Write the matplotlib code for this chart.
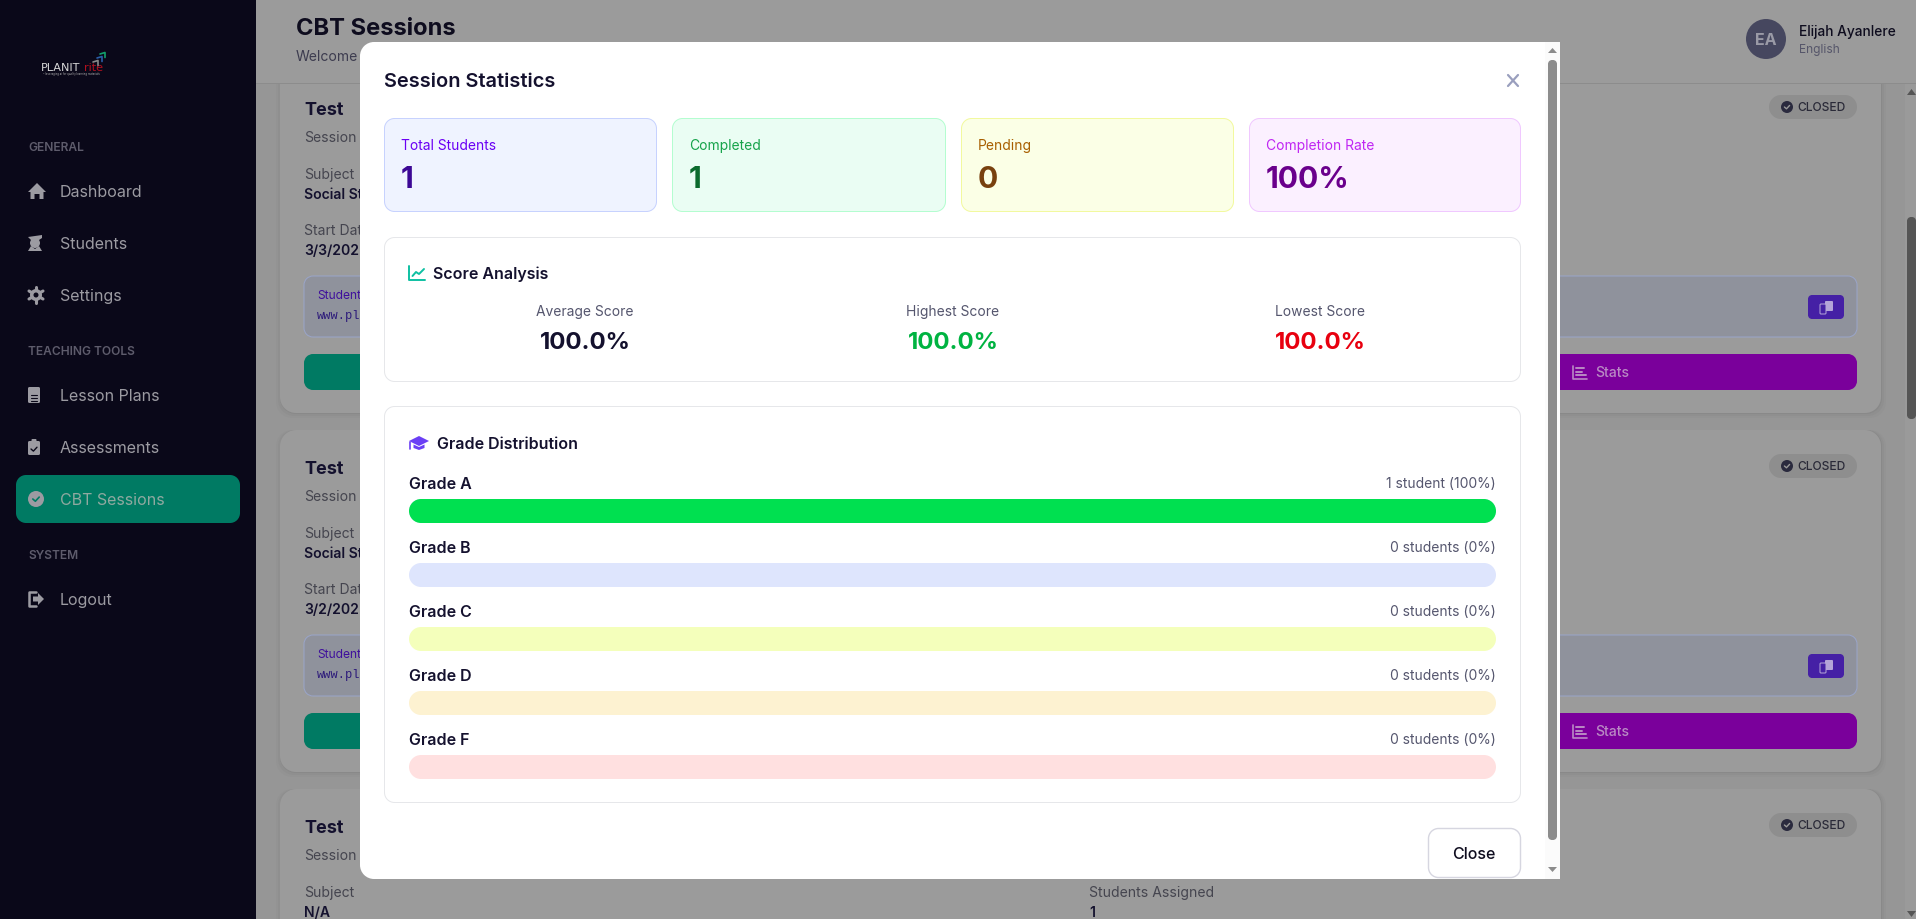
import matplotlib
matplotlib.use("Agg")
import matplotlib.pyplot as plt
from matplotlib.patches import PathPatch, Rectangle, Circle, Polygon
from matplotlib.path import Path
from matplotlib.transforms import IdentityTransform

# data
stat_labels = ["Total Students", "Completed", "Pending", "Completion Rate"]
stat_values = ["1", "1", "0", "100%"]
score_labels = ["Average Score", "Highest Score", "Lowest Score"]
score_values = [100.0, 100.0, 100.0]
grades = ["Grade A", "Grade B", "Grade C", "Grade D", "Grade F"]
grade_students = [1, 0, 0, 0, 0]
grade_percent = [100, 0, 0, 0, 0]
menu_general = ["Dashboard", "Students", "Settings"]
menu_tools = ["Lesson Plans", "Assessments", "CBT Sessions"]

plt.rcParams["font.family"] = ["Inter", "DejaVu Sans"]

W, H = 1916, 919
fig = plt.figure(figsize=(W / 100, H / 100), dpi=100, facecolor="#969696")
ax = fig.add_axes([0, 0, 1, 1])
ax.set_xlim(0, W)
ax.set_ylim(H, 0)
ax.axis("off")

DARK = "#14112e"
MUTED = "#55566e"
PX = 0.72  # one pixel as a line width


def txt(x, y, s, px, color=DARK, weight="normal", ha="left", z=5, **kw):
    # y is the middle of the capitals, so place by baseline
    return ax.text(x, y + 0.36 * px, s, fontsize=px * 0.72, color=color, fontweight=weight,
                   ha=ha, va="baseline", zorder=z, **kw)


def round_path(x0, y0, x1, y1, r):
    r = min(r, (x1 - x0) / 2, (y1 - y0) / 2)
    verts, codes = [], []
    for cx, cy, a, b in [(x1 - r, y0 + r, -90, 0), (x1 - r, y1 - r, 0, 90),
                         (x0 + r, y1 - r, 90, 180), (x0 + r, y0 + r, 180, 270)]:
        arc = Path.arc(a, b)
        cc = list(arc.codes)
        if verts:
            cc[0] = Path.LINETO
        verts += [(vx * r + cx, vy * r + cy) for vx, vy in arc.vertices]
        codes += cc
    verts.append(verts[0])
    codes.append(Path.CLOSEPOLY)
    return Path(verts, codes)


def box(x0, y0, x1, y1, r, fc, ec="none", lw=PX, z=2, alpha=None):
    p = PathPatch(round_path(x0, y0, x1, y1, r), fc=fc, ec=ec, lw=lw, zorder=z, alpha=alpha)
    ax.add_patch(p)
    return p


def rect(x0, y0, x1, y1, fc, z=2):
    ax.add_patch(Rectangle((x0, y0), x1 - x0, y1 - y0, fc=fc, ec="none", zorder=z))


def poly(pts, fc, z=5):
    ax.add_patch(Polygon(pts, closed=True, fc=fc, ec="none", zorder=z))


def stroke(xs, ys, color, lw=1.5, z=6):
    ax.plot(xs, ys, color=color, lw=lw, zorder=z, solid_capstyle="round", solid_joinstyle="round")


def check(cx, cy, s, color, lw=1.0, z=7):
    stroke([cx - s, cx - s * 0.2, cx + s], [cy, cy + s * 0.7, cy - s * 0.6], color, lw, z)


# page behind the dialog
rect(256, 0, W, 83, "#9b9b9b", 1.8)
rect(256, 83, W, 84, "#8c8c8c", 1.8)
rect(0, 0, 256, H, "#0a0819", 3)
rect(1905, 84, W, H, "#9a9a9a", 1.8)
box(1907, 217, 1916, 419, 4, "#555555", z=2)
poly([(1907, 95), (1911.5, 89), (1916, 95)], "#555555", 3)
poly([(1907, 911), (1911.5, 917), (1916, 911)], "#555555", 3)

txt(296, 26, "CBT Sessions", 23.7, "#0e0c1e", "bold")
txt(296, 56, "Welcome", 14, "#3d3c4f")
ax.add_patch(Circle((1766, 39), 20, fc="#46475f", ec="none", zorder=4))
txt(1766, 39, "EA", 16, "#9a9aa6", "bold", ha="center")
txt(1799, 31, "Elijah Ayanlere", 13.8, "#0e0c1e", "medium")
txt(1799, 49, "English", 12, "#56566a")

# the session cards, only their visible parts
card_rows = [
    (0, "Social St", "3/3/202"),
    (359, "Social St", "3/2/202"),
    (718, "N/A", None),
]
for dy, subject, date in card_rows:
    top = 71 + dy if dy else -40
    # soft shadow under the card
    for k, a in [(5, 0.015), (3, 0.025), (1, 0.04)]:
        box(281 - k, top, 1881 + k, dy + 413 + k, 16, "black", z=1.2, alpha=a)
    box(280, top, 1881, dy + 413, 16, "#9b9b9b", z=1.5)
    txt(304, 109 + dy, "Test", 18, "#14112e", "bold")
    txt(304, 137 + dy, "Session", 14, "#45454f")
    txt(304, 174 + dy, "Subject", 14, "#45454f")
    txt(304, 194 + dy, subject, 14, "#14112e", "semibold")
    box(1769, 95 + dy, 1857, 119 + dy, 12, "#8e8e8e", z=3)
    ax.add_patch(Circle((1787, 107 + dy), 6, fc="#2a2a3e", ec="none", zorder=4))
    check(1787, 107 + dy, 2.6, "#9a9a9a")
    txt(1797, 107 + dy, "CLOSED", 12, "#2a2a38", "medium")
    if date:
        txt(304, 230 + dy, "Start Dat", 14, "#45454f")
        txt(304, 250 + dy, date, 14, "#14112e", "semibold")
        box(304, 276 + dy, 1857, 337 + dy, 9, "#8f929c", ec="#9aa5c9", z=3)
        txt(317, 295 + dy, "Student", 12, "#3f0f9c")
        txt(317, 315 + dy, "www.pl", 12, "#2c1a7a", family="Liberation Mono")
        box(1808, 295 + dy, 1844, 319 + dy, 4, "#4520a5", z=4)
        box(1825, 301 + dy, 1833, 311 + dy, 1, "#b4a4d8", z=5)
        box(1820, 304 + dy, 1826, 314 + dy, 1, "#4520a5", ec="#b4a4d8", z=6)
        box(304, 354 + dy, 1000, 390 + dy, 9, "#007a63", z=3)
        box(1400, 354 + dy, 1857, 390 + dy, 9, "#7a009b", z=3)
        stroke([1573, 1573, 1587], [366 + dy, 379 + dy, 379 + dy], "#b98ac4", 1.2)
        for k, ln in enumerate([8, 6, 10]):
            stroke([1576, 1576 + ln], [368 + 3.5 * k + dy, 368 + 3.5 * k + dy], "#b98ac4", 1.4)
        txt(1595, 372 + dy, "Stats", 14, "#b98ac4", "medium")
txt(1089, 892, "Students Assigned", 14, "#45454f")
txt(1089, 912, "1", 14, "#14112e", "semibold")

# sidebar
SIDE = "#9c9ba2"
SEC = "#5e5c6c"
txt(41, 67, "PLANIT", 11.2, "#d8d8d8", z=6, family="DejaVu Sans")
txt(84, 67, "rite", 11.2, "#b3101f", z=6, family="DejaVu Sans")
txt(43, 74, "– leveraging ai for quality learning materials", 2.7, "#b0b0b0", z=6)
for x0, y0, c in [(93, 62, "#888888"), (97, 58, "#2a5fa8"), (100, 54, "#12a06c")]:
    stroke([x0, x0 + 5, x0 + 5], [y0, y0 - 1.5, y0 + 3.5], c, 1.2)

txt(28, 147, "GENERAL", 12, SEC, "semibold", z=6)
txt(28, 351, "TEACHING TOOLS", 12, SEC, "semibold", z=6)
txt(28, 555, "SYSTEM", 12, SEC, "semibold", z=6)
box(16, 475, 240, 523, 10, "#007a63", z=4)
menu_y = [191, 243, 295, 395, 447, 499]
for name, y in zip(menu_general + menu_tools, menu_y):
    txt(60, y, name, 16, "#8fa9a0" if name == "CBT Sessions" else SIDE, z=6)
txt(60, 599, "Logout", 16, SIDE, z=6)

# sidebar icons
poly([(28, 192), (37, 183), (46, 192), (43.5, 192), (43.5, 199), (39.5, 199), (39.5, 194), (34.5, 194),
      (34.5, 199), (30.5, 199), (30.5, 192)], SIDE, 6)
poly([(28, 237), (42, 235), (42, 238), (39, 240), (31, 240)], SIDE, 6)
ax.add_patch(Circle((35, 243), 5, fc=SIDE, ec="none", zorder=6))
poly([(28, 251), (31, 246), (35, 249), (39, 246), (42, 251)], SIDE, 6)
for dx, dy in [(0, 8), (7, 4), (7, -4)]:
    stroke([36 - dx, 36 + dx], [295 - dy, 295 + dy], SIDE, 2.2)
ax.add_patch(Circle((36, 295), 6, fc=SIDE, ec="none", zorder=6.1))
ax.add_patch(Circle((36, 295), 2.5, fc="#0a0819", ec="none", zorder=6.2))
box(28, 387, 40, 403, 1.5, SIDE, z=6)
for yy in [395, 398, 401]:
    stroke([31, 37], [yy - 0.5, yy - 0.5], "#0a0819", 0.8, 7)
box(28, 441, 40, 455, 1.5, SIDE, z=6)
box(31.5, 439, 36.5, 443, 1, SIDE, z=6)
check(34, 449, 3, "#0a0819", 1.0)
ax.add_patch(Circle((36, 499), 8, fc=SIDE, ec="none", zorder=6))
check(36, 499, 3.2, "#007a63", 1.2)
stroke([36, 29, 29, 36], [592, 592, 606, 606], SIDE, 1.8)
poly([(33, 596.5), (38, 596.5), (38, 593), (44, 599), (38, 605), (38, 601.5), (33, 601.5)], SIDE, 6)

# dialog
Z = 10
box(360, 42, 400, 879, 14, "white", z=Z)
rect(375, 42, 1560, 879, "white", Z)
rect(1545, 42, 1560, 879, "#fbfbfb", Z + 0.1)
box(1548, 60, 1557, 840, 4, "#8c8c8c", z=Z + 0.2)
poly([(1548, 53), (1552.5, 48), (1557, 53)], "#8c8c8c", Z + 0.2)
poly([(1548, 867), (1552.5, 872), (1557, 867)], "#8c8c8c", Z + 0.2)

T = Z + 2
txt(384, 80, "Session Statistics", 20, DARK, "semibold", z=T)
stroke([1508, 1518], [75, 86], "#9a9fbe", 1.6, T)
stroke([1518, 1508], [75, 86], "#9a9fbe", 1.6, T)

card_x = [(384.5, 656.5), (672.5, 945.5), (961.5, 1233.5), (1249.5, 1520.5)]
card_bg = ["#eff3ff", "#eafdf3", "#fbffe6", "#fbf0ff"]
card_ec = ["#c7d2fe", "#b4fdd0", "#f2f99f", "#f0c8ff"]
card_lab = ["#6a00f4", "#16a34a", "#a85f00", "#c026f3"]
card_val = ["#3c0795", "#0b6b2d", "#78410f", "#6a008c"]
for i in range(len(stat_labels)):
    x0, x1 = card_x[i]
    box(x0, 118.5, x1, 211.5, 10, card_bg[i], ec=card_ec[i], z=Z + 1)
    txt(x0 + 16.5, 145, stat_labels[i], 13.85, card_lab[i], z=T)
    txt(x0 + 16.5, 177, stat_values[i], 30, card_val[i], "bold", z=T)

box(384.5, 237.5, 1520.5, 381.5, 10, "white", ec="#e6e7ea", z=Z + 1)
stroke([409.5, 409.5, 425], [266, 280, 280], "#0ec0a2", 1.4, T)
stroke([412.5, 416, 419, 424], [276, 272, 274, 269], "#0ec0a2", 1.4, T)
txt(433, 273, "Score Analysis", 16, DARK, "semibold", z=T)
score_x = [585, 953, 1320]
score_col = [DARK, "#00b341", "#e8000f"]
for i in range(len(score_labels)):
    txt(score_x[i], 311, score_labels[i], 13.85, MUTED, ha="center", z=T)
    txt(score_x[i], 340, f"{score_values[i]:.1f}%", 24, score_col[i], "bold", ha="center", z=T)

box(384.5, 406.5, 1520.5, 802.5, 10, "white", ec="#e6e7ea", z=Z + 1)
CAP = "#6b3ff5"
poly([(409, 441), (419, 436), (429, 441), (419, 446)], CAP, T)
poly([(413.5, 444.5), (419, 447), (424.5, 444.5), (424.5, 448), (419, 450), (413.5, 448)], CAP, T)
stroke([410.5, 410.5], [442, 449], CAP, 1.2, T)
txt(437, 443, "Grade Distribution", 16, DARK, "semibold", z=T)

row_y = [483, 547, 611, 675, 739]
for i, g in enumerate(grades):
    word = "student" if grade_students[i] == 1 else "students"
    txt(409, row_y[i], g, 16, DARK, "semibold", z=T)
    txt(1496, row_y[i], f"{grade_students[i]} {word} ({grade_percent[i]}%)", 13.85, MUTED, ha="right", z=T)

# the grade bars get their own axis in percent
bar_ax = fig.add_axes([409 / W, 1 - 779 / H, (1496 - 409) / W, (779 - 499) / H], zorder=5)
bar_ax.set_xlim(0, 100)
bar_ax.set_ylim(4 + 24 / 128, -24 / 128)
bar_ax.axis("off")
track_col = ["#dee5fd", "#dee5fd", "#f4ffbb", "#fdf2d1", "#ffe0e0"]
fill_col = ["#00e050", "#3b82f6", "#eab308", "#f59e0b", "#ef4444"]
ypos = list(range(len(grades)))
tracks = bar_ax.barh(ypos, [100] * len(grades), height=24 / 64, color=track_col, linewidth=0)
fills = bar_ax.barh(ypos, grade_percent, height=24 / 64, color=fill_col, linewidth=0)
for bar in list(tracks) + list(fills):
    x0, y0, w, h = bar.get_window_extent().bounds
    if w > 0:
        bar.set_clip_path(round_path(x0, y0, x0 + w, y0 + h, 12), IdentityTransform())

box(1428.5, 828.5, 1520.5, 877.5, 10, "white", ec="#d6d6e0", lw=1.0, z=Z + 1)
txt(1474, 853, "Close", 16, "#0e0c1e", "medium", ha="center", z=T)

fig.savefig("out.png", dpi=100, facecolor=fig.get_facecolor())
